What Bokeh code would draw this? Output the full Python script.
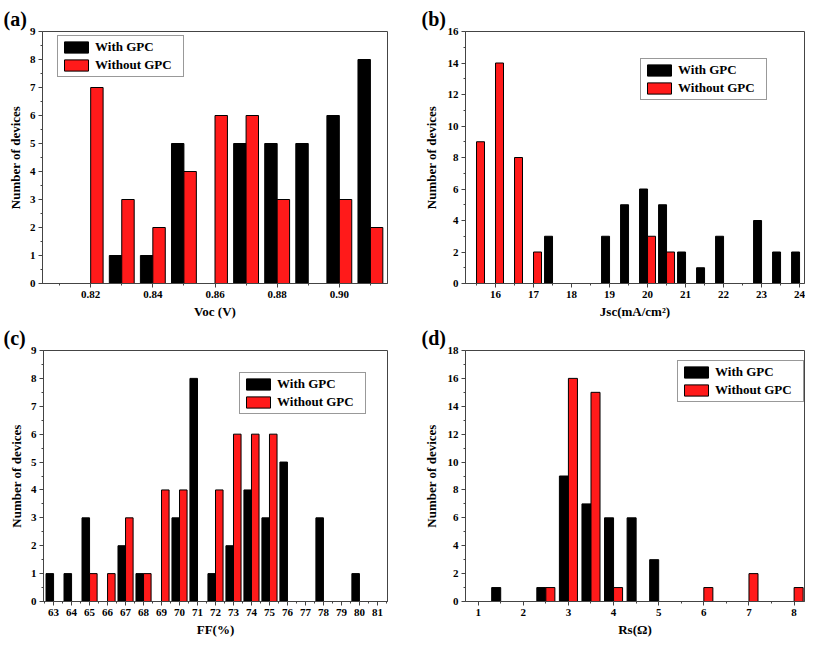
from bokeh.plotting import figure
from bokeh.models import (Range1d, FixedTicker, NumeralTickFormatter, Legend, LegendItem,
                          ColumnDataSource)
from bokeh.transform import dodge
from bokeh.layouts import column, row
from bokeh.embed import file_html
from bokeh.resources import INLINE

# ---------------- data ----------------
# (a) Voc (V)
a_black_pos = [0.83, 0.84, 0.85, 0.87, 0.88, 0.89, 0.90, 0.91]
a_black = [1, 1, 5, 5, 5, 5, 6, 8]
a_red_pos = [0.82, 0.83, 0.84, 0.85, 0.86, 0.87, 0.88, 0.90, 0.91]
a_red = [7, 3, 2, 4, 6, 6, 3, 3, 2]
a_xticks = [0.82, 0.84, 0.86, 0.88, 0.90]
a_xminor = [0.81, 0.83, 0.85, 0.87, 0.89, 0.91]

# (b) Jsc (mA/cm2)
b_black_pos = [17.5, 19, 19.5, 20, 20.5, 21, 21.5, 22, 23, 23.5, 24]
b_black = [3, 3, 5, 6, 5, 2, 1, 3, 4, 2, 2]
b_red_pos = [15.5, 16, 16.5, 17, 20, 20.5]
b_red = [9, 14, 8, 2, 3, 2]
b_xticks = [16, 17, 18, 19, 20, 21, 22, 23, 24]

# (c) FF (%)
c_black_pos = [63, 64, 65, 67, 68, 70, 71, 72, 73, 74, 75, 76, 78, 80]
c_black = [1, 1, 3, 2, 1, 3, 8, 1, 2, 4, 3, 5, 3, 1]
c_red_pos = [65, 66, 67, 68, 69, 70, 72, 73, 74, 75]
c_red = [1, 1, 3, 1, 4, 4, 4, 6, 6, 6]
c_xticks = list(range(63, 82))

# (d) Rs (Ohm)
d_black_pos = [1.5, 2.5, 3, 3.5, 4, 4.5, 5]
d_black = [1, 1, 9, 7, 6, 6, 3]
d_red_pos = [2.5, 3, 3.5, 4, 6, 7, 8]
d_red = [1, 16, 15, 1, 1, 2, 1]
d_xticks = [1, 2, 3, 4, 5, 6, 7, 8]

series_names = ["With GPC", "Without GPC"]
RED = "#ff1a1a"
FONT = "Liberation Serif"
AX = "#444444"


def halves(ticks, step):
    out = [t - step / 2 for t in ticks]
    out.append(ticks[-1] + step / 2)
    return out


def panel(width, height, xr, yr, xticks, xminor, yticks, yminor, mb, xlabel, tag,
          black_pos, black, red_pos, red, bw, legend_xy, tag_offset, tag_standoff,
          xfmt=None, ystand=4, xstand=3):
    p = figure(width=width, height=height, output_backend="svg", toolbar_location=None,
               x_range=Range1d(*xr), y_range=Range1d(*yr),
               min_border_left=mb[0], min_border_right=mb[1],
               min_border_top=mb[2], min_border_bottom=mb[3])
    p.background_fill_color = "white"
    p.border_fill_color = "white"
    p.outline_line_color = AX
    p.outline_line_width = 1
    p.xgrid.visible = False
    p.ygrid.visible = False

    p.title.text = tag
    p.title.align = "left"
    p.title.vertical_align = "top"
    p.title.offset = tag_offset
    p.title.standoff = tag_standoff
    p.title.text_font = FONT
    p.title.text_font_style = "bold"
    p.title.text_font_size = "20px"
    p.title.text_color = "black"

    src_b = ColumnDataSource(dict(x=black_pos, top=black))
    src_r = ColumnDataSource(dict(x=red_pos, top=red))
    rb = p.vbar(x=dodge("x", -bw / 2, range=p.x_range), top="top", bottom=0, width=bw,
                source=src_b, fill_color="black", line_color="black", line_width=1)
    rr = p.vbar(x=dodge("x", bw / 2, range=p.x_range), top="top", bottom=0, width=bw,
                source=src_r, fill_color=RED, line_color="black", line_width=1)

    for ax in (p.xaxis[0], p.yaxis[0]):
        ax.axis_line_color = AX
        ax.major_tick_line_color = AX
        ax.minor_tick_line_color = AX
        ax.major_tick_in = 0
        ax.major_tick_out = 4
        ax.minor_tick_in = 0
        ax.minor_tick_out = 2
        ax.major_label_text_font = FONT
        ax.major_label_text_font_style = "bold"
        ax.major_label_text_font_size = "11px"
        ax.major_label_text_color = "black"
        ax.axis_label_text_font = FONT
        ax.axis_label_text_font_style = "bold"
        ax.axis_label_text_font_size = "13px"
        ax.axis_label_text_color = "black"
        ax.major_label_standoff = 3

    p.xaxis.ticker = FixedTicker(ticks=xticks, minor_ticks=xminor)
    p.yaxis.ticker = FixedTicker(ticks=yticks, minor_ticks=yminor)
    if xfmt:
        p.xaxis.formatter = NumeralTickFormatter(format=xfmt)
    p.xaxis.axis_label = xlabel
    p.yaxis.axis_label = "Number of devices"
    p.xaxis.axis_label_standoff = xstand
    p.yaxis.axis_label_standoff = ystand

    legend = Legend(items=[LegendItem(label=series_names[0], renderers=[rb]),
                           LegendItem(label=series_names[1], renderers=[rr])],
                    location=legend_xy, orientation="vertical",
                    glyph_width=30, glyph_height=14, label_height=14, label_width=85,
                    label_standoff=4, spacing=2, padding=3, margin=0,
                    label_text_font=FONT, label_text_font_style="bold",
                    label_text_font_size="13px", label_text_color="black",
                    border_line_color="#333333", border_line_width=1,
                    background_fill_color="white", background_fill_alpha=1.0)
    p.add_layout(legend, "center")
    return p


pa = panel(406, 321, (0.8045, 0.9155), (0, 9), a_xticks, a_xminor,
           list(range(0, 10)), [i + 0.5 for i in range(0, 9)],
           (42, 19, 30, 38), "Voc (V)", "(a)",
           a_black_pos, a_black, a_red_pos, a_red, 0.004, (15, 206), -39, 0,
           xfmt="0.00", ystand=4, xstand=3)

pb = panel(399, 321, (15.21, 24.13), (0, 16), b_xticks, halves(b_xticks, 1),
           list(range(0, 17, 2)), list(range(1, 16, 2)),
           (59, 1, 31, 38), "Jsc(mA/cm\u00b2)", "(b)",
           b_black_pos, b_black, b_red_pos, b_red, 0.21, (175, 183), -44, 0,
           ystand=6, xstand=3)

pc = panel(406, 318, (62.44, 81.56), (0, 9), c_xticks, halves(c_xticks, 1),
           list(range(0, 10)), [i + 0.5 for i in range(0, 9)],
           (43, 19, 29, 38), "FF(%)", "(c)",
           c_black_pos, c_black, c_red_pos, c_red, 0.42, (196, 187), -40, 0,
           ystand=4, xstand=3)

pd_ = panel(399, 318, (0.72, 8.23), (0, 18), d_xticks, halves(d_xticks, 1),
            list(range(0, 19, 2)), list(range(1, 18, 2)),
            (59, 1, 29, 38), "Rs(\u03a9)", "(d)",
            d_black_pos, d_black, d_red_pos, d_red, 0.2, (212, 199), -44, 0,
            ystand=6, xstand=3)

layout = column(row(pa, pb), row(pc, pd_))
open("out.html", "w").write(file_html(layout, INLINE))
